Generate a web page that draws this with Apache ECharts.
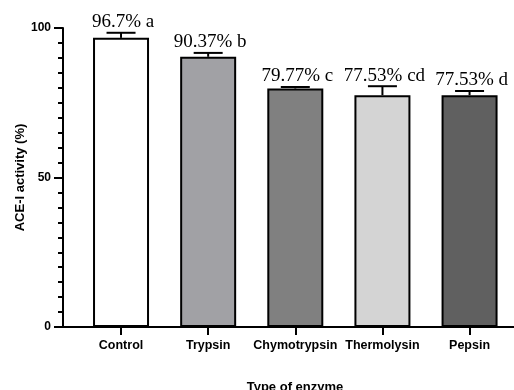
<!DOCTYPE html>
<html>
<head>
<meta charset="utf-8">
<title>ACE-I activity by enzyme</title>
<script src="https://cdn.jsdelivr.net/npm/echarts@6/dist/echarts.min.js"></script>
<style>
  html, body { margin: 0; padding: 0; background: #fff; }
  #chart { width: 514px; height: 390px; }
</style>
</head>
<body>
<div id="chart"></div>
<script>
// Enzyme treatments and measured ACE-I activity (%)
const categories = ['Control', 'Trypsin', 'Chymotrypsin', 'Thermolysin', 'Pepsin'];
const activity = [96.7, 90.37, 79.77, 77.53, 77.53];
const errors = [1.7, 1.3, 0.5, 3.0, 1.4];
const groupLetters = ['a', 'b', 'c', 'cd', 'd'];
const barColors = ['#ffffff', '#a1a1a5', '#808080', '#d4d4d4', '#606060'];
const yTicks = [0, 50, 100];

const indices = categories.map((_, i) => i);
const barData = activity.map((v, i) => ({
  value: [i, v],
  itemStyle: { color: barColors[i] }
}));
const errData = activity.map((v, i) => [i, v, errors[i]]);
const labelTexts = activity.map((v, i) => v + '% ' + groupLetters[i]);

const chart = echarts.init(document.getElementById('chart'), null, { renderer: 'canvas' });

const sans = '"Liberation Sans", Arial, sans-serif';

chart.setOption({
  animation: false,
  backgroundColor: '#ffffff',
  grid: { left: 63, right: 0, top: 28, bottom: 63, containLabel: false, outerBoundsMode: 'none' },
  xAxis: {
    type: 'value',
    min: -0.666,
    max: 4.51,
    name: 'Type of enzyme',
    nameLocation: 'middle',
    nameGap: 54,
    nameMoveOverlap: false,
    nameTextStyle: { fontFamily: sans, fontWeight: 'bold', fontSize: 13, color: '#000', padding: [0, 0, 0, 13] },
    splitLine: { show: false },
    axisLine: { show: true, onZero: false, lineStyle: { color: '#000', width: 2 } },
    axisTick: { show: true, inside: false, length: 8, customValues: indices, lineStyle: { color: '#000', width: 2 } },
    axisLabel: {
      customValues: indices,
      margin: 12,
      fontFamily: sans, fontWeight: 'bold', fontSize: 12.5, color: '#000',
      formatter: v => categories[Math.round(v)]
    }
  },
  yAxis: {
    type: 'value',
    min: 0,
    max: 100,
    interval: 50,
    name: 'ACE-I activity (%)',
    nameLocation: 'middle',
    nameGap: 36,
    nameMoveOverlap: false,
    nameTextStyle: { fontFamily: sans, fontWeight: 'bold', fontSize: 13, color: '#000' },
    splitLine: { show: false },
    axisLine: { show: true, onZero: false, lineStyle: { color: '#000', width: 2 } },
    axisTick: { show: true, inside: false, length: 9, customValues: yTicks, lineStyle: { color: '#000', width: 2 } },
    minorTick: { show: true, splitNumber: 10, length: 5, lineStyle: { color: '#000', width: 2 } },
    axisLabel: {
      customValues: yTicks,
      margin: 12,
      fontFamily: sans, fontWeight: 'bold', fontSize: 12, color: '#000'
    }
  },
  series: [
    {
      type: 'bar',
      data: barData,
      barWidth: 56,
      itemStyle: { borderColor: '#000', borderWidth: 2 },
      z: 2
    },
    {
      type: 'custom',
      data: errData,
      z: 3,
      renderItem: function (params, api) {
        const x = api.value(0);
        const v = api.value(1);
        const e = api.value(2);
        const base = api.coord([x, v]);
        const top = api.coord([x, v + e]);
        const half = 14.5;
        return {
          type: 'group',
          children: [
            {
              type: 'line',
              shape: { x1: top[0], y1: base[1], x2: top[0], y2: top[1] },
              style: { stroke: '#000', lineWidth: 2 }
            },
            {
              type: 'line',
              shape: { x1: top[0] - half, y1: top[1], x2: top[0] + half, y2: top[1] },
              style: { stroke: '#000', lineWidth: 2 }
            },
            {
              type: 'text',
              x: top[0] + 2,
              y: top[1] - 1,
              style: {
                text: labelTexts[params.dataIndex],
                font: '19px "Liberation Serif", "Times New Roman", serif',
                align: 'center',
                verticalAlign: 'bottom',
                fill: '#000'
              }
            }
          ]
        };
      }
    }
  ]
});
</script>
</body>
</html>
